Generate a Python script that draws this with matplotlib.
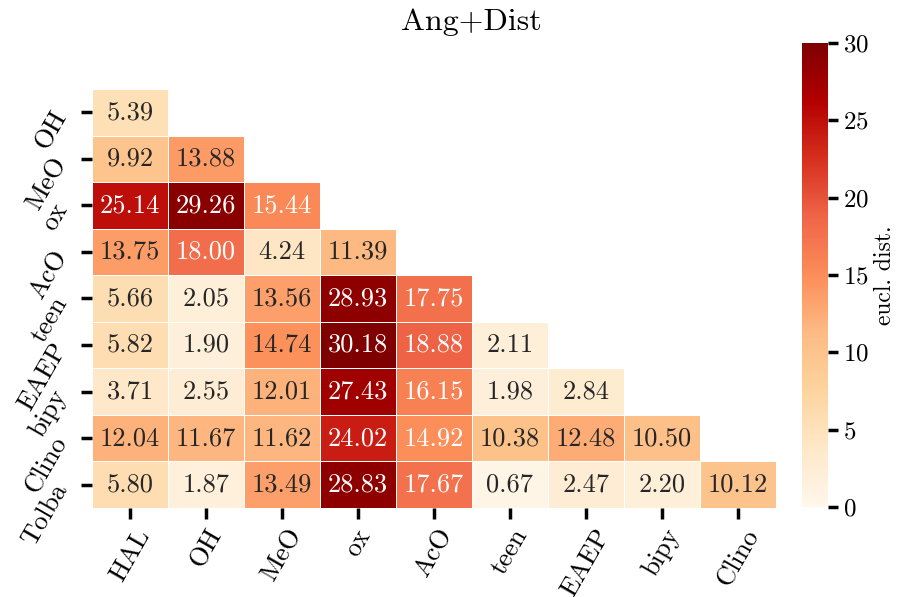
import numpy as np
import matplotlib
matplotlib.use("Agg")
import matplotlib.pyplot as plt
import seaborn as sns

row_labels = ["OH", "MeO", "ox", "AcO", "teen", "EAEP", "bipy", "Clino", "Tolba"]
col_labels = ["HAL", "OH", "MeO", "ox", "AcO", "teen", "EAEP", "bipy", "Clino"]

row_OH = [5.39]
row_MeO = [9.92, 13.88]
row_ox = [25.14, 29.26, 15.44]
row_AcO = [13.75, 18.00, 4.24, 11.39]
row_teen = [5.66, 2.05, 13.56, 28.93, 17.75]
row_EAEP = [5.82, 1.90, 14.74, 30.18, 18.88, 2.11]
row_bipy = [3.71, 2.55, 12.01, 27.43, 16.15, 1.98, 2.84]
row_Clino = [12.04, 11.67, 11.62, 24.02, 14.92, 10.38, 12.48, 10.50]
row_Tolba = [5.80, 1.87, 13.49, 28.83, 17.67, 0.67, 2.47, 2.20, 10.12]

rows = [row_OH, row_MeO, row_ox, row_AcO, row_teen, row_EAEP, row_bipy, row_Clino, row_Tolba]
n = len(col_labels)
mat = np.full((len(rows), n), np.nan)
for i, r in enumerate(rows):
    mat[i, :len(r)] = r
mask = np.isnan(mat)

FS = 19

plt.rcParams["font.family"] = "serif"
plt.rcParams["font.serif"] = ["cmr10"]
plt.rcParams["mathtext.fontset"] = "cm"
plt.rcParams["axes.formatter.use_mathtext"] = True
plt.rcParams["font.size"] = FS

W, H = 903, 597
fig = plt.figure(figsize=(W / 100, H / 100), dpi=100)
ax = fig.add_axes([92 / W, (H - 508) / H, 684 / W, 419 / H])
cax = fig.add_axes([802 / W, (H - 507) / H, 26 / W, 464 / H])

sns.heatmap(mat, mask=mask, cmap="OrRd", vmin=0, vmax=30, annot=True, fmt=".2f",
            linewidths=0.7, linecolor="white", ax=ax, cbar_ax=cax,
            xticklabels=col_labels, yticklabels=row_labels,
            annot_kws={"fontsize": FS},
            cbar_kws={"label": "eucl. dist."})

ax.set_xticklabels(col_labels, rotation=60, ha="center", va="top", fontsize=FS)
ax.set_yticklabels(row_labels, rotation=60, ha="right", va="center",
                   rotation_mode="anchor", fontsize=FS)
ax.tick_params(axis="both", length=8, width=2.5)
ax.tick_params(axis="x", pad=4)
ax.tick_params(axis="y", pad=14)

cax.tick_params(length=7, width=2.5, labelsize=18)
cax.set_yticks([0, 5, 10, 15, 20, 25, 30])
cax.yaxis.label.set_size(17)
for s in cax.spines.values():
    s.set_visible(False)

fig.text(471 / W, 1 - 22 / H, "Ang+Dist", ha="center", va="center", fontsize=23)

fig.savefig("out.png", dpi=100)
